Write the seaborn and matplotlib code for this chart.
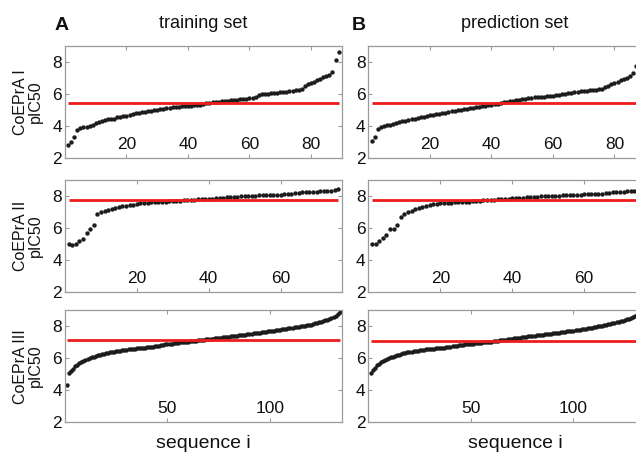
import numpy as np
import pandas as pd
import matplotlib
matplotlib.use("Agg")
import matplotlib.pyplot as plt
import seaborn as sns

# ---------------- data (sorted pIC50 values) ----------------
train_I = [2.85, 3.00, 3.35, 3.75, 3.90, 3.95, 3.98, 4.02, 4.10, 4.18,
           4.25, 4.30, 4.38, 4.42, 4.45, 4.48, 4.55, 4.60, 4.63, 4.66,
           4.70, 4.75, 4.80, 4.84, 4.87, 4.90, 4.94, 4.97, 5.00, 5.04,
           5.07, 5.10, 5.13, 5.15, 5.17, 5.19, 5.21, 5.23, 5.24, 5.26,
           5.28, 5.30, 5.32, 5.35, 5.39, 5.42, 5.45, 5.48, 5.50, 5.53,
           5.56, 5.58, 5.60, 5.62, 5.64, 5.66, 5.68, 5.70, 5.72, 5.74,
           5.78, 5.85, 5.93, 5.98, 6.00, 6.03, 6.06, 6.08, 6.10, 6.11,
           6.13, 6.14, 6.17, 6.20, 6.24, 6.28, 6.35, 6.50, 6.62, 6.68,
           6.78, 6.88, 6.97, 7.05, 7.15, 7.22, 7.40, 8.12, 8.60]
pred_I = [3.10, 3.35, 3.85, 3.95, 4.00, 4.05, 4.10, 4.15, 4.20, 4.26,
          4.30, 4.35, 4.40, 4.44, 4.48, 4.51, 4.55, 4.59, 4.63, 4.67,
          4.71, 4.75, 4.78, 4.82, 4.85, 4.89, 4.92, 4.95, 4.98, 5.02,
          5.05, 5.08, 5.12, 5.15, 5.18, 5.21, 5.24, 5.27, 5.30, 5.33,
          5.37, 5.41, 5.45, 5.49, 5.53, 5.57, 5.60, 5.63, 5.66, 5.69,
          5.72, 5.75, 5.77, 5.79, 5.81, 5.83, 5.85, 5.87, 5.89, 5.91,
          5.94, 5.97, 6.00, 6.03, 6.06, 6.09, 6.12, 6.15, 6.17, 6.19,
          6.22, 6.24, 6.26, 6.28, 6.31, 6.35, 6.42, 6.52, 6.61, 6.70,
          6.78, 6.86, 6.92, 7.02, 7.15, 7.33, 7.73, 8.24, 8.60]
train_II = [4.96, 4.92, 5.00, 5.15, 5.30, 5.68, 5.95, 6.20, 6.84, 6.98,
            7.06, 7.15, 7.20, 7.25, 7.30, 7.34, 7.38, 7.42, 7.46, 7.50,
            7.54, 7.56, 7.58, 7.60, 7.62, 7.63, 7.64, 7.65, 7.66, 7.67,
            7.69, 7.70, 7.72, 7.73, 7.75, 7.76, 7.78, 7.80, 7.81, 7.82,
            7.84, 7.86, 7.88, 7.90, 7.91, 7.93, 7.94, 7.96, 7.97, 7.99,
            8.00, 8.01, 8.02, 8.03, 8.04, 8.05, 8.06, 8.07, 8.08, 8.09,
            8.10, 8.12, 8.14, 8.17, 8.20, 8.22, 8.24, 8.25, 8.26, 8.27,
            8.28, 8.29, 8.30, 8.32, 8.36, 8.42]
pred_II = [5.00, 5.02, 5.20, 5.35, 5.58, 5.90, 5.95, 6.15, 6.65, 6.88,
           7.00, 7.08, 7.16, 7.24, 7.30, 7.36, 7.42, 7.47, 7.50, 7.53,
           7.55, 7.56, 7.57, 7.59, 7.60, 7.62, 7.63, 7.65, 7.67, 7.69,
           7.71, 7.73, 7.74, 7.75, 7.77, 7.78, 7.80, 7.82, 7.84, 7.86,
           7.88, 7.89, 7.90, 7.92, 7.93, 7.94, 7.95, 7.97, 7.98, 7.99,
           8.00, 8.01, 8.02, 8.03, 8.04, 8.05, 8.06, 8.07, 8.08, 8.10,
           8.11, 8.12, 8.13, 8.14, 8.15, 8.18, 8.21, 8.23, 8.25, 8.26,
           8.27, 8.28, 8.30, 8.31, 8.33, 8.36]
train_III = [4.35, 5.10, 5.22, 5.35, 5.48, 5.60, 5.68, 5.76, 5.84, 5.90,
             5.95, 6.00, 6.05, 6.10, 6.14, 6.18, 6.22, 6.25, 6.28, 6.31,
             6.34, 6.37, 6.39, 6.41, 6.43, 6.45, 6.47, 6.49, 6.51, 6.53,
             6.55, 6.57, 6.58, 6.60, 6.62, 6.63, 6.64, 6.65, 6.66, 6.67,
             6.68, 6.70, 6.72, 6.74, 6.76, 6.78, 6.80, 6.82, 6.85, 6.87,
             6.89, 6.91, 6.93, 6.95, 6.97, 6.99, 7.00, 7.01, 7.02, 7.03,
             7.04, 7.05, 7.07, 7.09, 7.10, 7.12, 7.14, 7.15, 7.17, 7.19,
             7.21, 7.22, 7.24, 7.25, 7.27, 7.28, 7.30, 7.31, 7.33, 7.34,
             7.35, 7.36, 7.38, 7.40, 7.42, 7.43, 7.45, 7.47, 7.49, 7.50,
             7.52, 7.54, 7.56, 7.57, 7.59, 7.61, 7.63, 7.65, 7.67, 7.69,
             7.71, 7.72, 7.74, 7.76, 7.78, 7.80, 7.82, 7.84, 7.86, 7.88,
             7.90, 7.92, 7.94, 7.96, 7.98, 8.00, 8.02, 8.04, 8.06, 8.09,
             8.12, 8.16, 8.20, 8.24, 8.28, 8.32, 8.36, 8.40, 8.45, 8.52,
             8.58, 8.65, 8.74, 8.85]
pred_III = [5.05, 5.25, 5.40, 5.55, 5.65, 5.74, 5.82, 5.90, 5.95, 6.00,
            6.05, 6.10, 6.14, 6.18, 6.22, 6.26, 6.30, 6.33, 6.36, 6.39,
            6.41, 6.43, 6.45, 6.47, 6.49, 6.51, 6.53, 6.54, 6.55, 6.57,
            6.58, 6.60, 6.61, 6.62, 6.64, 6.65, 6.66, 6.68, 6.70, 6.72,
            6.74, 6.76, 6.78, 6.79, 6.81, 6.83, 6.85, 6.87, 6.88, 6.90,
            6.91, 6.93, 6.94, 6.96, 6.97, 6.98, 6.99, 7.00, 7.01, 7.03,
            7.04, 7.06, 7.08, 7.10, 7.12, 7.14, 7.16, 7.18, 7.20, 7.21,
            7.23, 7.24, 7.26, 7.28, 7.30, 7.32, 7.34, 7.36, 7.37, 7.39,
            7.40, 7.42, 7.43, 7.45, 7.47, 7.48, 7.50, 7.52, 7.53, 7.55,
            7.56, 7.58, 7.59, 7.61, 7.63, 7.64, 7.66, 7.68, 7.70, 7.72,
            7.74, 7.76, 7.78, 7.80, 7.82, 7.84, 7.86, 7.88, 7.90, 7.93,
            7.96, 7.98, 8.00, 8.03, 8.06, 8.08, 8.11, 8.14, 8.17, 8.20,
            8.23, 8.26, 8.30, 8.34, 8.38, 8.42, 8.46, 8.51, 8.57, 8.63,
            8.70, 8.77, 8.85, 8.93]

mean_train = [5.45, 7.77, 7.12]
mean_pred = [5.45, 7.77, 7.05]
row_names = ["CoEPrA I", "CoEPrA II", "CoEPrA III"]
col_titles = ["training set", "prediction set"]
panel_letters = ["A", "B"]
x_ticks = [[20, 40, 60, 80], [20, 40, 60], [50, 100]]
x_max = [90, 77, 135]
y_ticks = [2, 4, 6, 8]

# ---------------- figure ----------------
sns.set_theme(style="white")
plt.rcParams["font.family"] = ["Liberation Sans", "DejaVu Sans"]

W, H = 636, 453
fig = plt.figure(figsize=(W / 100, H / 100), dpi=100)

col_left_px = [65, 368.5]
col_width_px = 276.7
row_top_px = [46, 180, 310]
row_bot_px = [158.3, 291.7, 422.3]

series = [[train_I, pred_I], [train_II, pred_II], [train_III, pred_III]]
means = [[mean_train[r], mean_pred[r]] for r in range(3)]

spine_col = "#9a9a9a"
for r in range(3):
    for c in range(2):
        left = col_left_px[c] / W
        bottom = 1 - row_bot_px[r] / H
        height = (row_bot_px[r] - row_top_px[r]) / H
        ax = fig.add_axes([left, bottom, col_width_px / W, height])
        vals = series[r][c]
        df = pd.DataFrame({"i": np.arange(1, len(vals) + 1), "pIC50": vals})
        sns.scatterplot(data=df, x="i", y="pIC50", ax=ax, color="#1c1c1c",
                        s=10, marker="o", linewidth=0, zorder=2, legend=False)
        ax.hlines(means[r][c], df["i"].min(), df["i"].max(), color="#ee1c1c",
                  lw=2.0, zorder=3)
        ax.set_xlim(0, x_max[r])
        ax.set_ylim(2, 9)
        ax.set_xticks(x_ticks[r])
        ax.set_yticks(y_ticks)
        ax.set_xlabel("")
        ax.set_ylabel("")
        for sp in ax.spines.values():
            sp.set_color(spine_col)
            sp.set_linewidth(0.9)
        ax.tick_params(axis="x", direction="in", top=True, bottom=True,
                       length=3, width=0.8, color=spine_col, labelsize=12.5,
                       labelcolor="#111111", pad=-15)
        ax.tick_params(axis="y", direction="in", left=True, right=True,
                       length=3, width=0.8, color=spine_col, labelsize=12.5,
                       labelcolor="#111111", pad=2)
        if c == 0:
            yc = 1 - (row_top_px[r] + row_bot_px[r]) / 2 / H
            fig.text(28 / W, yc, row_names[r] + "\npIC50", rotation=90,
                     ha="center", va="center", multialignment="center",
                     fontsize=11.5, color="#111111", linespacing=1.05)

# titles and panel letters
fig.text(55 / W, 1 - 25 / H, panel_letters[0], fontsize=14, fontweight="bold",
         ha="left", va="center", color="#111111")
fig.text(352 / W, 1 - 25 / H, panel_letters[1], fontsize=14, fontweight="bold",
         ha="left", va="center", color="#111111")
fig.text(203 / W, 1 - 24 / H, col_titles[0], fontsize=13, ha="center",
         va="center", color="#111111")
fig.text(515 / W, 1 - 24 / H, col_titles[1], fontsize=13, ha="center",
         va="center", color="#111111")
fig.text(203 / W, 1 - 443 / H, "sequence i", fontsize=14, ha="center",
         va="center", color="#111111")
fig.text(515 / W, 1 - 443 / H, "sequence i", fontsize=14, ha="center",
         va="center", color="#111111")

fig.savefig("out.png", dpi=100)
